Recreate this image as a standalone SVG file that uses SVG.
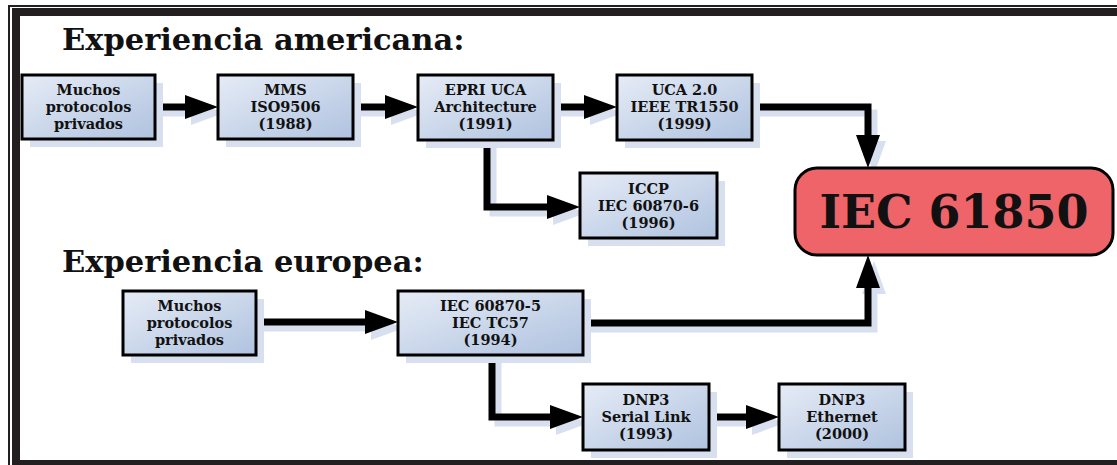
<svg xmlns="http://www.w3.org/2000/svg" width="1117" height="465" viewBox="0 0 1117 465">
  <defs>
    <linearGradient id="boxFill" x1="0" y1="0" x2="1" y2="1">
      <stop offset="0" stop-color="#e6ecf6"/>
      <stop offset="1" stop-color="#afc2df"/>
    </linearGradient>
    <marker id="arrow" viewBox="0 0 33 24" refX="0" refY="12" markerWidth="33" markerHeight="24" markerUnits="userSpaceOnUse" orient="auto">
      <path d="M0,0 L33,12 L0,24 Z" fill="#000"/>
    </marker>
    <marker id="arrowShadow" viewBox="0 0 33 24" refX="0" refY="12" markerWidth="33" markerHeight="24" markerUnits="userSpaceOnUse" orient="auto">
      <path d="M0,0 L33,12 L0,24 Z" fill="#d8e0f0"/>
    </marker>
  </defs>
  <style>
    .frame { fill: #231f20; }
    .title { font-family: "DejaVu Serif", "Liberation Serif", serif; font-weight: bold; font-size: 30.5px; fill: #111; }
    .shadow { fill: #d8e0f0; }
    .box { fill: url(#boxFill); stroke: #000; stroke-width: 3; }
    .label { font-family: "DejaVu Serif", "Liberation Serif", serif; font-weight: bold; font-size: 14.5px; fill: #111; text-anchor: middle; }
    .target { fill: #ef6468; stroke: #000; stroke-width: 3; }
    .big { font-family: "DejaVu Serif", "Liberation Serif", serif; font-weight: bold; font-size: 46px; fill: #111; text-anchor: middle; }
    .wire { fill: none; stroke: #000; stroke-width: 7; stroke-linejoin: miter; marker-end: url(#arrow); }
    .wireShadow { fill: none; stroke: #d8e0f0; stroke-width: 7; stroke-linejoin: miter; marker-end: url(#arrowShadow); }
  </style>

  <rect width="1117" height="465" fill="#fff"/>

  <!-- double frame -->
  <g id="frame">
    <rect class="frame" x="8" y="5" width="2" height="460"/>
    <rect class="frame" x="8" y="5" width="1109" height="2"/>
    <rect class="frame" x="12" y="8" width="8" height="457"/>
    <rect class="frame" x="12" y="8" width="1105" height="8"/>
    <rect class="frame" x="12" y="460" width="1105" height="5"/>
  </g>

  <text class="title" x="62" y="50">Experiencia americana:</text>
  <text class="title" x="62" y="272">Experiencia europea:</text>

  <!-- connector shadows -->
  <g id="connector-shadows" transform="translate(6,6)">
    <path class="wireShadow" d="M155,107 H185"/>
    <path class="wireShadow" d="M353,107 H385"/>
    <path class="wireShadow" d="M553,107 H584"/>
    <path class="wireShadow" d="M752,107 H868 V135"/>
    <path class="wireShadow" d="M487,140 V207 H547"/>
    <path class="wireShadow" d="M256,322 H365"/>
    <path class="wireShadow" d="M583,323 H868 V288"/>
    <path class="wireShadow" d="M492,355 V417 H550"/>
    <path class="wireShadow" d="M709,417 H746"/>
  </g>

  <!-- connectors -->
  <g id="connectors">
    <path class="wire" d="M155,107 H185"/>
    <path class="wire" d="M353,107 H385"/>
    <path class="wire" d="M553,107 H584"/>
    <path class="wire" d="M752,107 H868 V135"/>
    <path class="wire" d="M487,140 V207 H547"/>
    <path class="wire" d="M256,322 H365"/>
    <path class="wire" d="M583,323 H868 V288"/>
    <path class="wire" d="M492,355 V417 H550"/>
    <path class="wire" d="M709,417 H746"/>
  </g>

  <g id="us-private">
    <rect class="shadow" x="30" y="83" width="133" height="64"/>
    <rect class="box" x="22" y="75" width="133" height="64"/>
    <text class="label" x="88.5" y="95">Muchos</text>
    <text class="label" x="88.5" y="112">protocolos</text>
    <text class="label" x="88.5" y="129">privados</text>
  </g>

  <g id="mms">
    <rect class="shadow" x="226" y="83" width="135" height="64"/>
    <rect class="box" x="218" y="75" width="135" height="64"/>
    <text class="label" x="285.5" y="95">MMS</text>
    <text class="label" x="285.5" y="112">ISO9506</text>
    <text class="label" x="285.5" y="129">(1988)</text>
  </g>

  <g id="epri-uca">
    <rect class="shadow" x="426" y="83" width="135" height="65"/>
    <rect class="box" x="418" y="75" width="135" height="65"/>
    <text class="label" x="485.5" y="95">EPRI UCA</text>
    <text class="label" x="485.5" y="112">Architecture</text>
    <text class="label" x="485.5" y="129">(1991)</text>
  </g>

  <g id="uca2">
    <rect class="shadow" x="625" y="83" width="135" height="65"/>
    <rect class="box" x="617" y="75" width="135" height="65"/>
    <text class="label" x="684.5" y="95">UCA 2.0</text>
    <text class="label" x="684.5" y="112">IEEE TR1550</text>
    <text class="label" x="684.5" y="129">(1999)</text>
  </g>

  <g id="iccp">
    <rect class="shadow" x="588" y="181" width="137" height="65"/>
    <rect class="box" x="580" y="173" width="137" height="65"/>
    <text class="label" x="648.5" y="193.5">ICCP</text>
    <text class="label" x="648.5" y="210.5">IEC 60870-6</text>
    <text class="label" x="648.5" y="227.5">(1996)</text>
  </g>

  <g id="iec61850">
    <rect class="target" x="795" y="168" width="318" height="87" rx="22" ry="22"/>
    <text class="big" x="954" y="228">IEC 61850</text>
  </g>

  <g id="eu-private">
    <rect class="shadow" x="131" y="299" width="133" height="64"/>
    <rect class="box" x="123" y="291" width="133" height="64"/>
    <text class="label" x="189.5" y="311">Muchos</text>
    <text class="label" x="189.5" y="328">protocolos</text>
    <text class="label" x="189.5" y="345">privados</text>
  </g>

  <g id="iec60870-5">
    <rect class="shadow" x="406" y="299" width="185" height="64"/>
    <rect class="box" x="398" y="291" width="185" height="64"/>
    <text class="label" x="490.5" y="311">IEC 60870-5</text>
    <text class="label" x="490.5" y="328">IEC TC57</text>
    <text class="label" x="490.5" y="345">(1994)</text>
  </g>

  <g id="dnp3-serial">
    <rect class="shadow" x="591" y="392" width="126" height="66"/>
    <rect class="box" x="583" y="384" width="126" height="66"/>
    <text class="label" x="646" y="405">DNP3</text>
    <text class="label" x="646" y="422">Serial Link</text>
    <text class="label" x="646" y="439">(1993)</text>
  </g>

  <g id="dnp3-ethernet">
    <rect class="shadow" x="787" y="392" width="126" height="66"/>
    <rect class="box" x="779" y="384" width="126" height="66"/>
    <text class="label" x="842" y="405">DNP3</text>
    <text class="label" x="842" y="422">Ethernet</text>
    <text class="label" x="842" y="439">(2000)</text>
  </g>
</svg>
